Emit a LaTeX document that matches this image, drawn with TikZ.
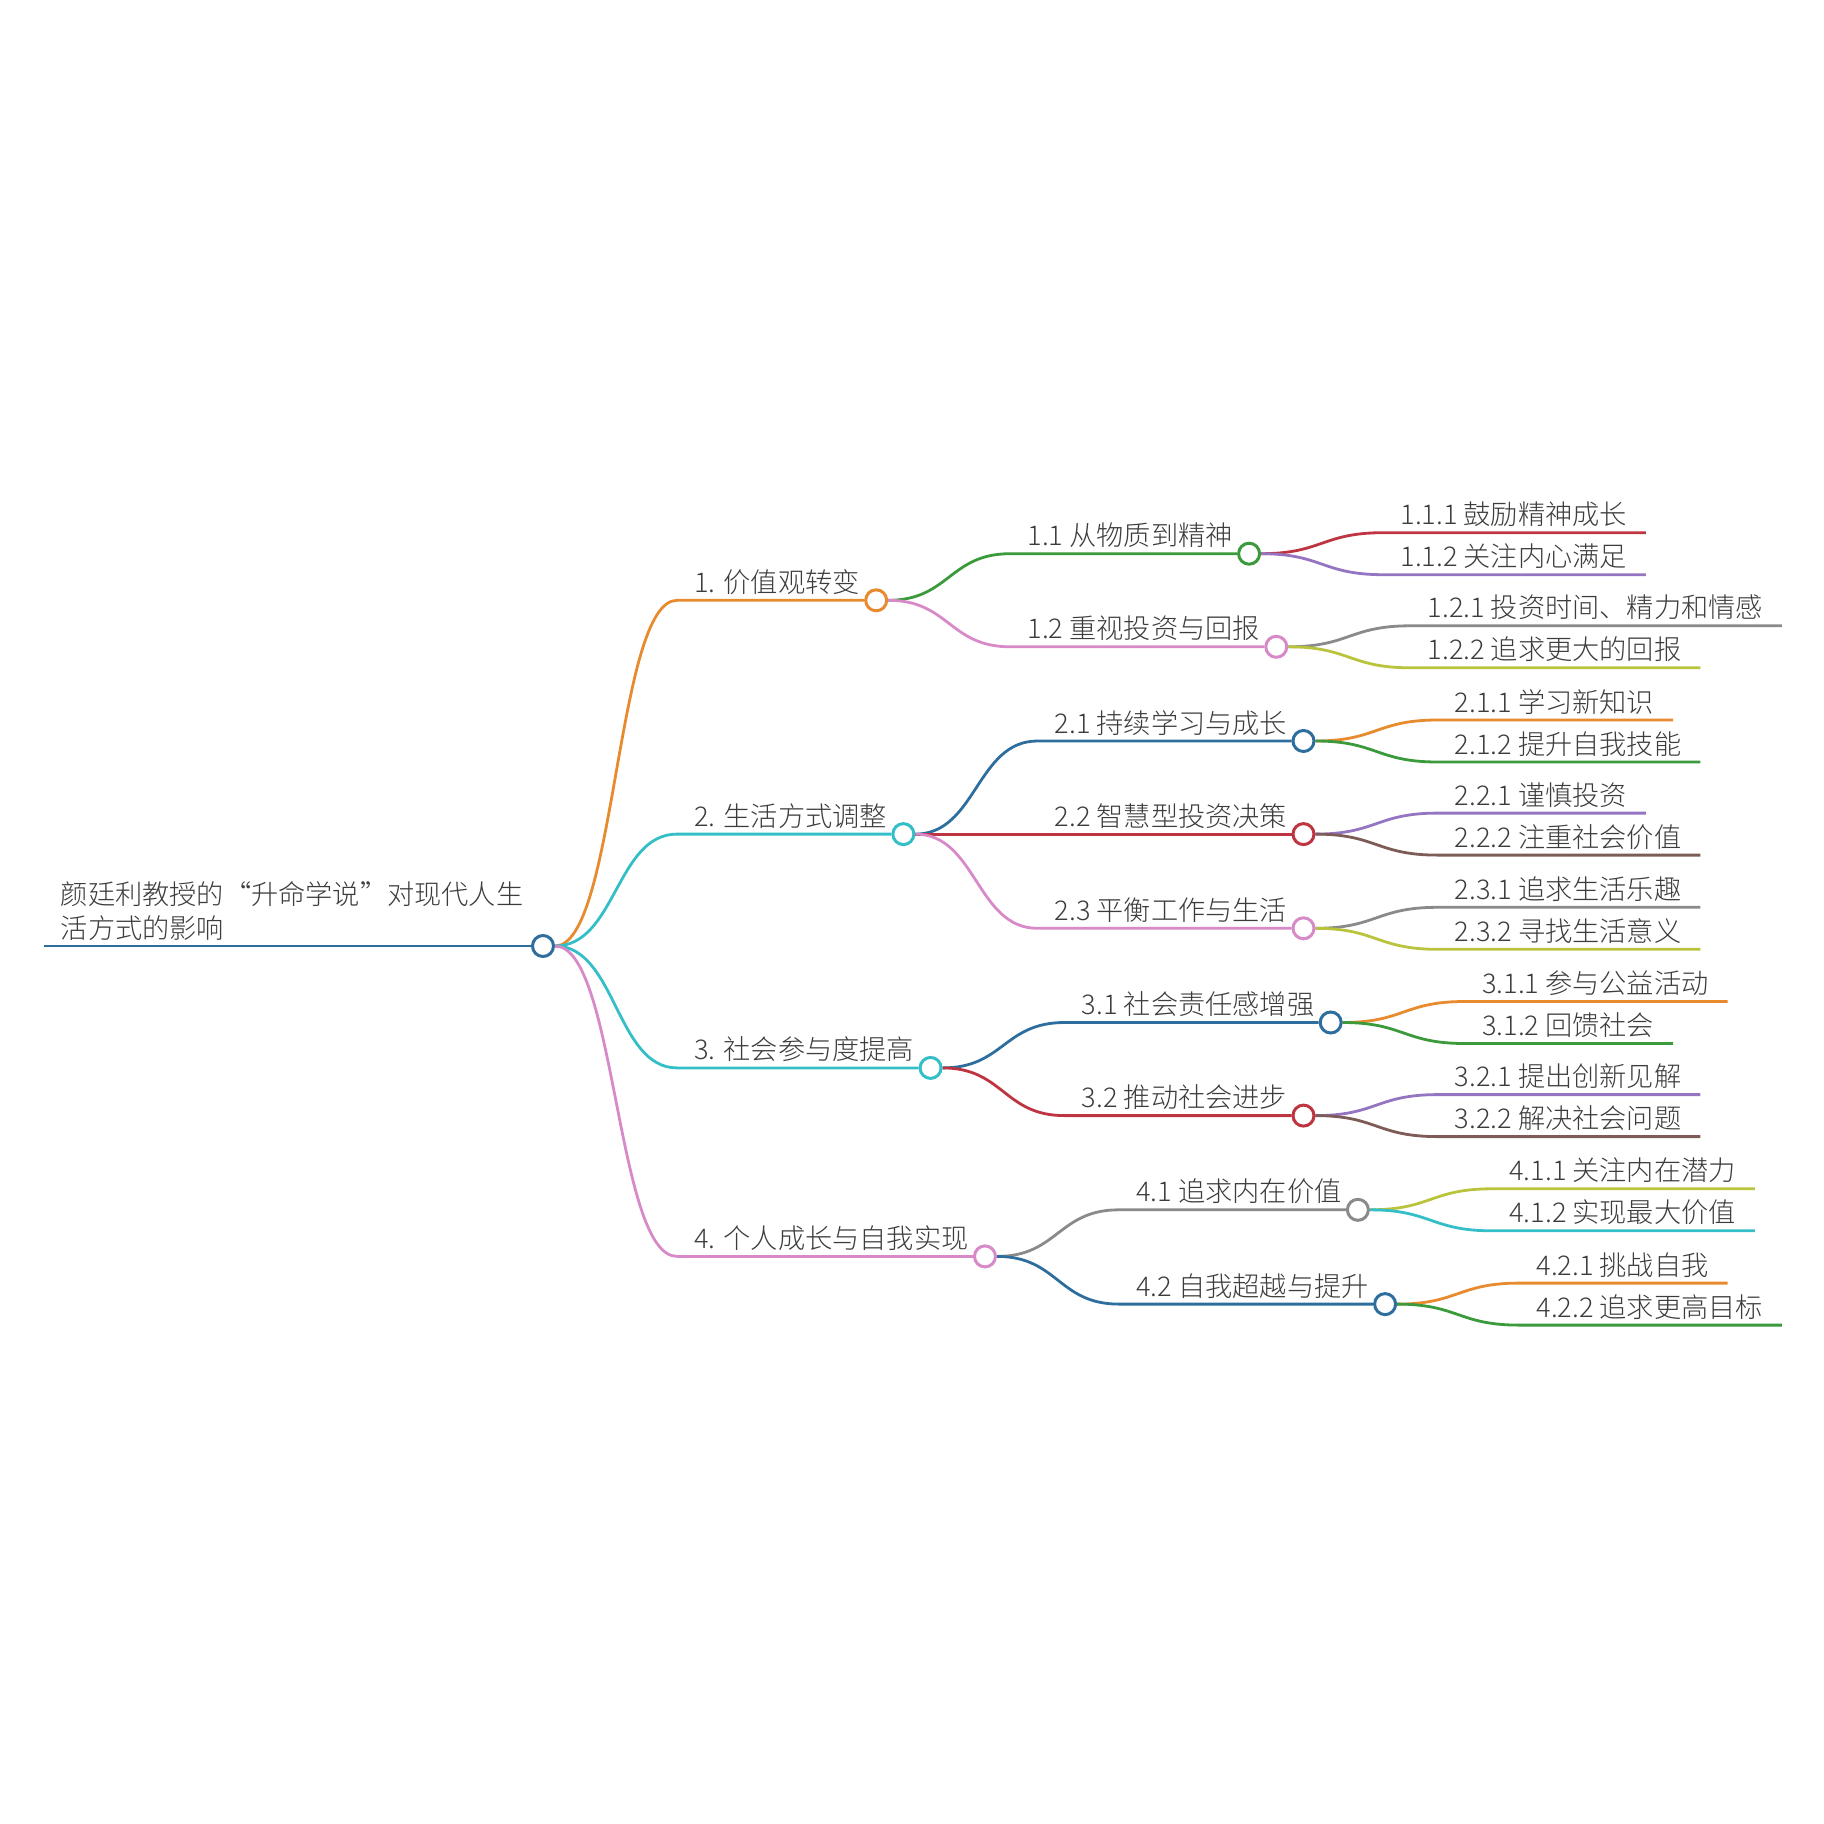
\documentclass[tikz,border=0pt]{standalone}
\usepackage{fontspec}
\IfFontExistsTF{Noto Sans CJK SC Light}{\setmainfont{Noto Sans CJK SC Light}}{\setmainfont{Noto Sans CJK SC}}
\usetikzlibrary{calc,backgrounds}
\definecolor{cBlue}{HTML}{2E6E9E}
\definecolor{cOrange}{HTML}{E88A2E}
\definecolor{cCyan}{HTML}{33BEC8}
\definecolor{cPink}{HTML}{D88AC8}
\definecolor{cGreen}{HTML}{3B9A3B}
\definecolor{cRed}{HTML}{BE3440}
\definecolor{cPurple}{HTML}{9575C2}
\definecolor{cGray}{HTML}{8A8A8A}
\definecolor{cOlive}{HTML}{B9C43C}
\definecolor{cBrown}{HTML}{7D5C58}
\definecolor{cText}{HTML}{3C3C3C}
\tikzset{
  lbl/.style={anchor=base west, inner sep=0pt, text=cText, font=\fontsize{13.6pt}{17pt}\selectfont},
  dot/.style={circle, draw=#1, fill=white, line width=1.5pt, minimum size=10.5pt, inner sep=0pt},
  edgeline/.style={draw=#1, line width=1.4pt},
  hcurve/.style={to path={let \p1=(\tikztostart), \p2=(\tikztotarget) in
     .. controls ({0.5*\x1+0.5*\x2},\y1) and ({0.5*\x1+0.5*\x2},\y2) .. (\tikztotarget)}},
}
% branch with circle: parent, name, colour, y, text
\newcommand\mmBranch[5]{%
  \coordinate (#2-s) at ($(#1 |- 0,#4)+(134,0)$);
  \node[lbl] (#2-t) at ($(#1 |- 0,#4)+(151,-8)$) {#5};
  \node[dot=#3] (#2) at ($(#2-t.east |- 0,#4)+(16,0)$) {};
  \begin{scope}[on background layer]
    \draw[edgeline=#3] (#1.east) to[hcurve] (#2-s) -- (#2.west);
  \end{scope}}
% leaf: parent, name, colour, y, text
\newcommand\mmLeaf[5]{%
  \coordinate (#2-s) at ($(#1 |- 0,#4)+(134,0)$);
  \node[lbl] (#2-t) at ($(#1 |- 0,#4)+(151,-8)$) {#5};
  \coordinate (#2-e) at ($(#2-t.east |- 0,#4)+(18.6,0)$);
  \begin{scope}[on background layer]
    \draw[edgeline=#3] (#1.east) to[hcurve] (#2-s) -- (#2-e);
  \end{scope}}
\begin{document}
\begin{tikzpicture}[x=0.5pt, y=-0.5pt]
\useasboundingbox (0,0) rectangle (1824,1824);
% root
\node[dot=cBlue] (root) at (543,946) {};
\coordinate (r0) at (44,946);
\node[lbl, align=left, font=\fontsize{13.6pt}{16.9pt}\selectfont] (root-t) at (60.5,938)
  {颜廷利教授的“升命学说”对现代人生\\活方式的影响};
\begin{scope}[on background layer]
  \draw[edgeline=cBlue] (r0) -- (root.west);
\end{scope}
% level 1
\mmBranch{root}{a}{cOrange}{600.3}{1. 价值观转变}
\mmBranch{root}{b}{cCyan}{834.1}{2. 生活方式调整}
\mmBranch{root}{c}{cCyan}{1067.9}{3. 社会参与度提高}
\mmBranch{root}{d}{cPink}{1256.4}{4. 个人成长与自我实现}
% level 2
\mmBranch{a}{a1}{cGreen}{553.7}{1.1 从物质到精神}
\mmBranch{a}{a2}{cPink}{646.8}{1.2 重视投资与回报}
\mmBranch{b}{b1}{cBlue}{741.0}{2.1 持续学习与成长}
\mmBranch{b}{b2}{cRed}{834.1}{2.2 智慧型投资决策}
\mmBranch{b}{b3}{cPink}{928.3}{2.3 平衡工作与生活}
\mmBranch{c}{c1}{cBlue}{1022.5}{3.1 社会责任感增强}
\mmBranch{c}{c2}{cRed}{1115.6}{3.2 推动社会进步}
\mmBranch{d}{d1}{cGray}{1209.8}{4.1 追求内在价值}
\mmBranch{d}{d2}{cBlue}{1304.1}{4.2 自我超越与提升}
% level 3
\mmLeaf{a1}{a11}{cRed}{532.7}{1.1.1 鼓励精神成长}
\mmLeaf{a1}{a12}{cPurple}{574.7}{1.1.2 关注内心满足}
\mmLeaf{a2}{a21}{cGray}{625.8}{1.2.1 投资时间、精力和情感}
\mmLeaf{a2}{a22}{cOlive}{667.8}{1.2.2 追求更大的回报}
\mmLeaf{b1}{b11}{cOrange}{720.0}{2.1.1 学习新知识}
\mmLeaf{b1}{b12}{cGreen}{762.0}{2.1.2 提升自我技能}
\mmLeaf{b2}{b21}{cPurple}{813.1}{2.2.1 谨慎投资}
\mmLeaf{b2}{b22}{cBrown}{855.1}{2.2.2 注重社会价值}
\mmLeaf{b3}{b31}{cGray}{907.3}{2.3.1 追求生活乐趣}
\mmLeaf{b3}{b32}{cOlive}{949.3}{2.3.2 寻找生活意义}
\mmLeaf{c1}{c11}{cOrange}{1001.5}{3.1.1 参与公益活动}
\mmLeaf{c1}{c12}{cGreen}{1043.5}{3.1.2 回馈社会}
\mmLeaf{c2}{c21}{cPurple}{1094.6}{3.2.1 提出创新见解}
\mmLeaf{c2}{c22}{cBrown}{1136.6}{3.2.2 解决社会问题}
\mmLeaf{d1}{d11}{cOlive}{1188.8}{4.1.1 关注内在潜力}
\mmLeaf{d1}{d12}{cCyan}{1230.8}{4.1.2 实现最大价值}
\mmLeaf{d2}{d21}{cOrange}{1283.1}{4.2.1 挑战自我}
\mmLeaf{d2}{d22}{cGreen}{1325.1}{4.2.2 追求更高目标}
\end{tikzpicture}
\end{document}
